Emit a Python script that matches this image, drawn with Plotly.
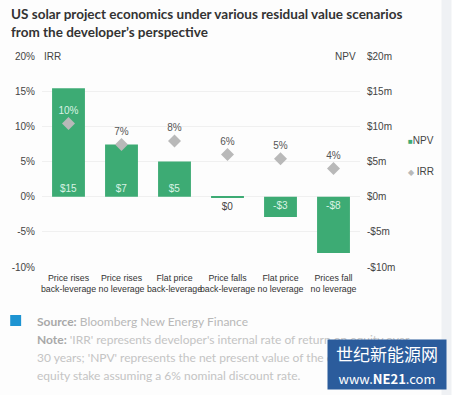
import plotly.graph_objects as go

categories = ["Price rises<br>back-leverage", "Price rises<br>no leverage", "Flat price<br>back-leverage",
              "Price falls<br>back-leverage", "Flat price<br>no leverage", "Prices fall<br>no leverage"]
npv_values = [15.4, 7.4, 5.0, -0.2, -2.9, -8.0]      # $m
irr_values = [10.4, 7.4, 7.9, 6.0, 5.4, 4.0]          # %
left_ticks = [-10, -5, 0, 5, 10, 15, 20]
left_tick_text = ["-10%", "-5%", "0%", "5%", "10%", "15%", "20%"]
right_tick_text = ["-$10m", "-$5m", "$0m", "$5m", "$10m", "$15m", "$20m"]

GREEN = "#3dab74"
GRAY_DIAMOND = "#b9b9b9"
LIGHT = "#d9f3e4"
FONT = "Liberation Sans, Arial, sans-serif"


def npv_label(v):
    r = round(v)
    return f"-${abs(r)}" if r < 0 else f"${r}"


npv_text = [npv_label(v) for v in npv_values]
npv_pos = ["outside" if abs(v) < 1 else "inside" for v in npv_values]
irr_text = [f"{round(v)}%" for v in irr_values]
irr_colors = [LIGHT if (n > i + 1.5) else "#555555" for n, i in zip(npv_values, irr_values)]

fig = go.Figure()
fig.add_trace(go.Bar(
    x=categories, y=npv_values, name="NPV", yaxis="y",
    marker=dict(color=GREEN, line=dict(width=0)), width=0.62,
    text=npv_text, textposition=npv_pos, insidetextanchor="start",
    insidetextfont=dict(color=LIGHT, size=10, family=FONT),
    outsidetextfont=dict(color="#444444", size=10, family=FONT),
    cliponaxis=False, showlegend=False,
))
fig.add_trace(go.Scatter(
    x=categories, y=irr_values, name="IRR", yaxis="y2", mode="markers+text",
    marker=dict(symbol="diamond", size=10, color=GRAY_DIAMOND),
    text=irr_text, textposition="top center",
    textfont=dict(color=irr_colors, size=10, family=FONT),
    cliponaxis=False, showlegend=False,
))

axis_common = dict(range=[-10, 20], tickvals=left_ticks, showline=False, zeroline=False,
                   ticks="", tickfont=dict(size=10, color="#444444", family=FONT), fixedrange=True)
fig.update_layout(
    width=452, height=395,
    margin=dict(l=40, r=92, t=56, b=128),
    paper_bgcolor="#fdfdfd", plot_bgcolor="#fdfdfd",
    font=dict(family=FONT, color="#444444"),
    xaxis=dict(showgrid=False, showline=False, ticks="", tickfont=dict(size=8.8, color="#333333", family=FONT),
               tickangle=0, fixedrange=True, ticklabelstandoff=4),
    yaxis=dict(side="right", ticktext=right_tick_text, showgrid=True, gridcolor="#f0f0f0", gridwidth=1,
               ticklabelstandoff=6, **axis_common),
    yaxis2=dict(side="left", overlaying="y", ticktext=left_tick_text, showgrid=False,
                ticklabelstandoff=6, **axis_common),
    showlegend=False,
)

ann = []
ann.append(dict(text="<b>US solar project economics under various residual value scenarios<br>from the developer’s perspective</b>",
                xref="paper", yref="paper", x=(7 - 40) / 320, y=1 + (56 - 4) / 211, xanchor="left", yanchor="top",
                align="left", showarrow=False, font=dict(size=13.5, color="#333333", family="Lato, sans-serif")))
ann.append(dict(text="IRR", xref="paper", yref="y", x=0.0, y=20, xanchor="left", yanchor="middle",
                showarrow=False, font=dict(size=10, color="#444444", family=FONT)))
ann.append(dict(text="NPV", xref="paper", yref="y", x=(358 - 40) / 320, y=20, xanchor="right", yanchor="middle",
                showarrow=False, font=dict(size=10, color="#444444", family=FONT)))
ann.append(dict(text=f"<span style='color:{GREEN};font-size:8px'>■</span>NPV", xref="paper", yref="paper",
                x=(406 - 40) / 320, y=(267 - 140) / 211, xanchor="left", yanchor="middle",
                showarrow=False, font=dict(size=10, color="#444444", family=FONT)))
ann.append(dict(text=f"<span style='color:{GRAY_DIAMOND};font-size:8px'>◆</span> IRR", xref="paper", yref="paper",
                x=(406 - 40) / 320, y=(267 - 171) / 211, xanchor="left", yanchor="middle",
                showarrow=False, font=dict(size=10, color="#444444", family=FONT)))
src_lines = ["<b>Source:</b> <span style='color:#b8b8b8'>Bloomberg New Energy Finance</span>",
             "<b>Note:</b> <span style='color:#c4c4c4'>'IRR' represents developer's internal rate of return on equity over</span>",
             "<span style='color:#c4c4c4'>30 years; 'NPV' represents the net present value of the developer's</span>",
             "<span style='color:#c4c4c4'>equity stake assuming a 6% nominal discount rate.</span>"]
for i, line in enumerate(src_lines):
    py = 321 + i * 18.3
    ann.append(dict(text=line, xref="paper", yref="paper", x=(33 - 40) / 320, y=(267 - py) / 211,
                    xanchor="left", yanchor="middle", showarrow=False,
                    font=dict(size=12, color="#a8a8a8", family="Lato, sans-serif")))
ann.append(dict(text="世纪新能源网<br><span style='font-size:13px'>www.<b>NE21</b>.com</span>",
                xref="paper", yref="paper", x=(387 - 40) / 320, y=(267 - 364.5) / 211,
                xanchor="center", yanchor="middle", showarrow=False, align="center",
                bgcolor="#2b5c9c", borderpad=3, width=112, height=43,
                font=dict(size=17, color="white", family="Noto Sans CJK SC, sans-serif")))
fig.update_layout(annotations=ann)

fig.add_shape(type="rect", xref="paper", yref="paper",
              x0=(8 - 40) / 320, x1=(19 - 40) / 320, y0=(267 - 326) / 211, y1=(267 - 315) / 211,
              fillcolor="#1e94d2", line=dict(width=0))
fig.add_shape(type="rect", xref="paper", yref="paper",
              x0=(442 - 40) / 320, x1=(452 - 40) / 320, y0=(267 - 395) / 211, y1=(267 - 0) / 211,
              fillcolor="#eff1f4", line=dict(width=0), layer="below")

fig.write_html("out.html", config={"displayModeBar": False},
               post_script="document.body.style.margin='0px';")
